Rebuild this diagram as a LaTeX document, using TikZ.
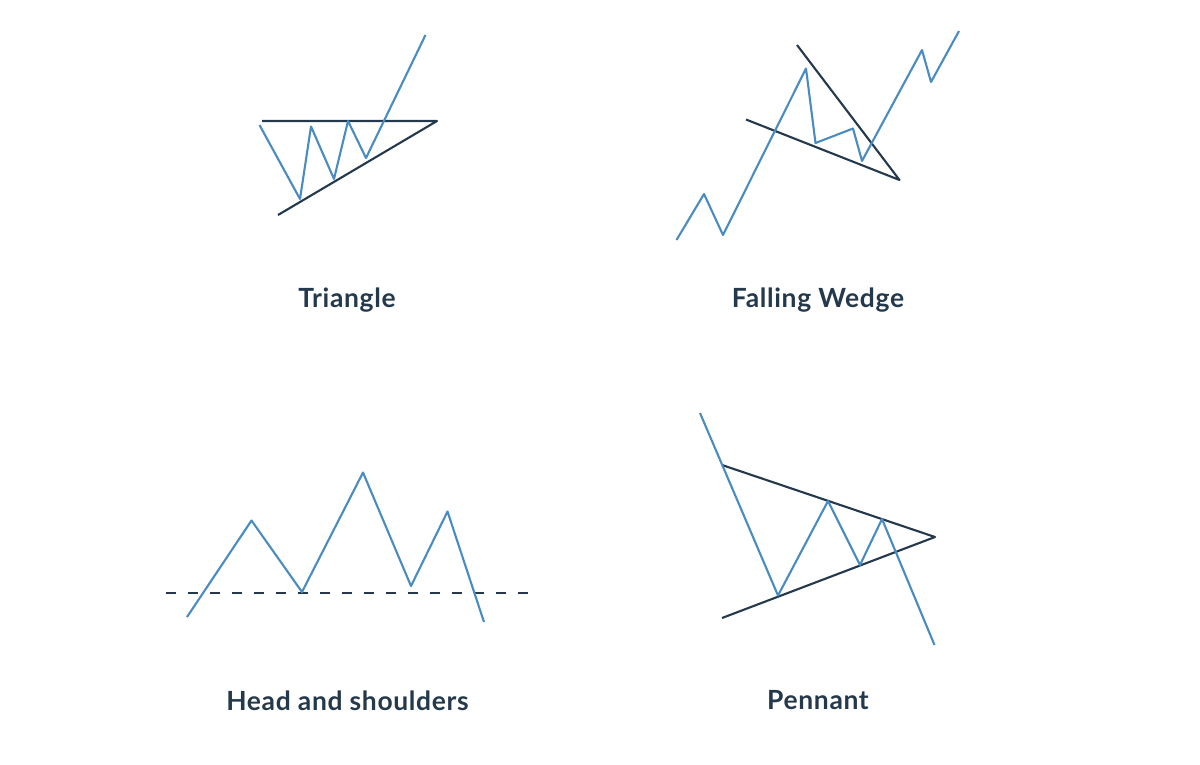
\documentclass[tikz,border=0pt]{standalone}
\usepackage{fontspec}
\setmainfont{Lato}
\newfontfamily\titlefont[LetterSpace=2.5,BoldFont={Lato Bold}]{Lato}
\usepackage{xcolor}
\definecolor{chartblue}{HTML}{4A8CC0}
\definecolor{trenddark}{HTML}{24394C}
\tikzset{
  price/.style={draw=chartblue, line width=1.5pt, line join=round},
  trend/.style={draw=trenddark, line width=1.5pt, line join=round},
  neck/.style={draw=trenddark, line width=1.3pt, dash pattern=on 7.1pt off 8.54pt},
  title/.style={text=trenddark, font=\fontsize{18.8}{22}\selectfont\titlefont\bfseries}
}
\begin{document}
\begin{tikzpicture}[x=0.025cm,y=-0.025cm]
\useasboundingbox (0,0) rectangle (1200,764);

\draw[trend] (262,121) -- (437,121) -- (278,215);
\draw[price] (259.5,125) -- (300,199) -- (311,126.5) -- (334,179) -- (348,121) -- (366,158) -- (425.5,35);
\node[title] (triangle) at (347,300.5) {Triangle};

\draw[trend] (797,45) -- (899.5,180) -- (746,119.5);
\draw[price] (676.5,240) -- (704,194) -- (723,235) -- (806,68.5) -- (815.5,143) -- (853,128.5) -- (862,161) -- (922,50) -- (931,82) -- (959,31);
\node[title] (wedge) at (818,300.5) {Falling Wedge};

\draw[neck] (166,593) -- (528,593);
\draw[price] (187,617) -- (251.5,520.5) -- (302,592) -- (363,472.5) -- (411,586) -- (447.5,511.5) -- (484,622);
\node[title] (shoulders) at (347.5,700.5) {Head and shoulders};

\draw[trend] (722,465) -- (935,537) -- (722,618);
\draw[price] (700,413) -- (778,595.5) -- (828,501) -- (860,565) -- (882,519) -- (934.5,645);
\node[title] (pennant) at (818,700.5) {Pennant};
\end{tikzpicture}
\end{document}
